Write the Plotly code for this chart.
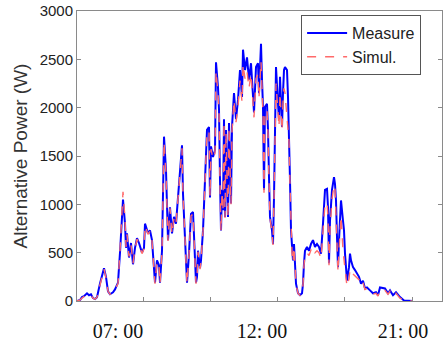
import plotly.graph_objects as go

# time index (arbitrary sample units across the day)
t = [0, 3, 5, 7, 10, 12, 14, 16, 18, 20, 23, 25, 27, 29, 31, 33, 36, 38, 41, 43,
     45, 46, 48, 49, 50, 52, 54, 56, 58, 60, 62, 65, 67, 68, 71, 73, 75, 77, 78, 80,
     82, 83, 85, 87, 89, 91, 93, 95, 97, 99, 101, 103, 105, 106, 108, 110, 112, 114, 116, 118,
     119, 120, 121, 123, 124, 126, 128, 130, 132, 133, 134, 136, 138, 139, 141, 142, 143, 144, 145, 146,
     147, 148, 149, 150, 151, 152, 153, 154, 155, 157, 159, 161, 163, 165, 166, 168, 170, 172, 174, 176,
     177, 179, 181, 182, 183, 184, 185, 186, 187, 188, 190, 191, 192, 193, 195, 196, 197, 198, 199, 201,
     202, 203, 204, 205, 206, 207, 208, 210, 211, 212, 213, 214, 215, 216, 217, 218, 219, 221, 223, 225,
     226, 227, 228, 230, 232, 234, 236, 238, 240, 242, 244, 246, 248, 250, 251, 252, 253, 255, 257, 258,
     259, 260, 261, 262, 263, 264, 266, 267, 268, 269, 270, 272, 273, 274, 276, 278, 280, 282, 284, 286,
     288, 290, 293, 296, 299, 301, 303, 308, 311, 313, 316, 319, 323, 327, 336]

measure = [0, 10, 40, 50, 80, 60, 70, 30, 20, 40, 180, 250, 340, 250, 100, 70, 90, 120, 190, 500,
           900, 1050, 800, 550, 700, 450, 600, 380, 550, 650, 600, 500, 550, 800, 700, 730, 630, 280, 190, 420,
           370, 190, 520, 1700, 1350, 630, 970, 700, 870, 800, 1070, 1400, 1610, 1110, 660, 190, 490, 900, 920, 490,
           190, 250, 520, 340, 420, 730, 1350, 1770, 1800, 1070, 1600, 1490, 1560, 2470, 2210, 1980, 1250, 730, 1150, 940,
           1880, 870, 1770, 1250, 870, 1840, 1350, 1010, 1800, 2150, 1880, 2080, 2390, 2110, 2600, 2390, 2520, 2290, 2460, 2110,
           1950, 2420, 2460, 2150, 2390, 2660, 2290, 2010, 1150, 2010, 2040, 1770, 1280, 870, 730, 590, 1070, 1660, 2420, 2040,
           1880, 2320, 2110, 1800, 2150, 2390, 2420, 2390, 2110, 1770, 1250, 730, 520, 420, 590, 390, 180, 80, 60, 80,
           180, 390, 520, 560, 520, 590, 630, 560, 590, 560, 490, 800, 1150, 1160, 970, 390, 830, 1150, 1280, 1210,
           1040, 660, 350, 630, 940, 1040, 830, 730, 490, 280, 210, 350, 490, 420, 350, 320, 280, 250, 180, 210,
           130, 140, 110, 80, 90, 60, 140, 130, 80, 110, 60, 90, 40, 5, 0]

simul = [0, 10, 30, 50, 70, 60, 60, 30, 20, 40, 170, 240, 330, 240, 100, 70, 90, 120, 180, 520,
         950, 1130, 850, 560, 690, 460, 580, 390, 540, 640, 590, 490, 540, 780, 690, 720, 620, 270, 180, 410,
         360, 180, 510, 1650, 1320, 620, 960, 690, 860, 800, 1060, 1380, 1580, 1100, 650, 180, 480, 880, 900, 480,
         180, 240, 510, 330, 410, 720, 1330, 1740, 1760, 1080, 1570, 1470, 1530, 2380, 2150, 1960, 1230, 720, 1130, 930,
         1850, 860, 1750, 1230, 860, 1800, 1330, 1000, 1760, 2080, 1850, 2010, 2280, 2060, 2450, 2300, 2380, 2200, 2350, 2050,
         1900, 2300, 2350, 2100, 2300, 2480, 2200, 1950, 1120, 1950, 1980, 1730, 1250, 850, 720, 580, 1050, 1600, 2250, 1950,
         1800, 2150, 2000, 1760, 2050, 2200, 2150, 1900, 1850, 1650, 1200, 710, 500, 400, 560, 380, 170, 80, 60, 80,
         170, 370, 480, 500, 470, 530, 560, 500, 520, 500, 440, 720, 1000, 1020, 860, 370, 740, 1050, 1200, 1150,
         900, 500, 300, 520, 780, 880, 520, 420, 330, 260, 150, 230, 330, 300, 280, 270, 240, 220, 160, 190,
         120, 130, 100, 70, 80, 50, 120, 110, 70, 100, 50, 80, 30, 5, 0]

tick_marks = [66, 133, 200.7, 267.7, 335]
label_pos = [41, 185, 326]
label_text = ["07: 00", "12: 00", "21: 00"]
y_ticks = [0, 500, 1000, 1500, 2000, 2500, 3000]

fig = go.Figure()
fig.add_trace(go.Scatter(x=t, y=measure, mode="lines", name="Measure",
                         line=dict(color="#0000ff", width=2)))
fig.add_trace(go.Scatter(x=t, y=simul, mode="lines", name="Simul.",
                         line=dict(color="#ff6a6a", width=1.4, dash="dash")))

axis_col = "#8a8a8a"
fig.update_layout(
    width=443, height=342,
    margin=dict(l=77, r=1, t=11, b=41),
    paper_bgcolor="white", plot_bgcolor="white",
    font=dict(family="Liberation Sans, Arial, sans-serif", color="#222"),
    legend=dict(x=0.614, y=0.986, xanchor="left", yanchor="top",
                bgcolor="white", bordercolor="#555", borderwidth=1,
                itemwidth=40,
                font=dict(size=16, color="#222"), tracegroupgap=0),
    xaxis=dict(range=[0, 365], showgrid=False, zeroline=False,
               showline=True, linecolor=axis_col, linewidth=1, mirror=True,
               tickmode="array", tickvals=label_pos, ticktext=label_text, ticks="",
               ticklabelstandoff=12,
               tickfont=dict(family="Liberation Serif, Times New Roman, serif", size=20, color="#111"),
               minor=dict(tickmode="array", tickvals=tick_marks, ticks="inside",
                          ticklen=4, tickcolor=axis_col, showgrid=False)),
    yaxis=dict(range=[0, 3000], showgrid=False, zeroline=False,
               showline=True, linecolor=axis_col, linewidth=1, mirror="ticks",
               tickmode="array", tickvals=y_ticks, ticks="inside", ticklen=4,
               tickcolor=axis_col, tickfont=dict(size=15, color="#222"),
               title=dict(text="Alternative Power (W)", font=dict(size=19, color="#333"),
                          standoff=6)),
    showlegend=True,
)

fig.write_html("out.html", config={"displayModeBar": False},
               post_script="document.body.style.margin='0';")
